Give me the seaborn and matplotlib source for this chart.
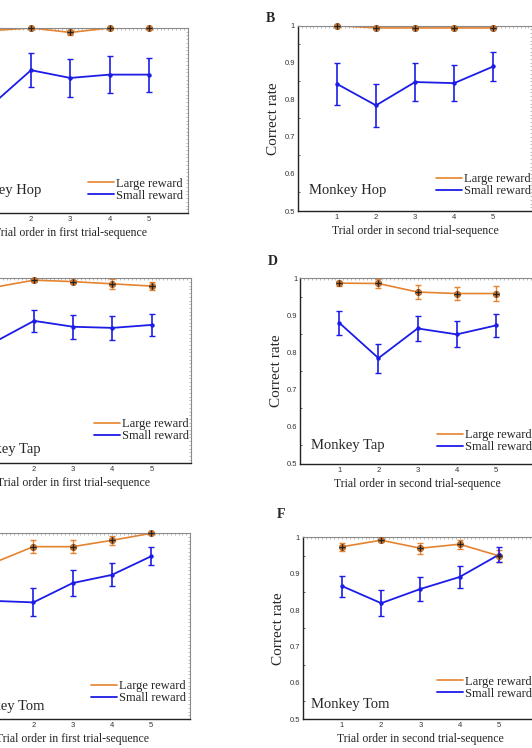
import matplotlib
matplotlib.use("Agg")
import matplotlib.pyplot as plt
import matplotlib.ticker as tkr
import seaborn as sns
import pandas as pd

# trial order
trials = [1, 2, 3, 4, 5]

# Monkey Hop
hop1_large = [0.993, 1.000, 0.988, 1.000, 1.000]
hop1_large_err = [0.003, 0.002, 0.007, 0.002, 0.002]
hop1_small = [0.792, 0.886, 0.865, 0.874, 0.874]
hop1_small_err = [0.050, 0.046, 0.052, 0.050, 0.046]
hop2_large = [1.000, 0.994, 0.994, 0.994, 0.994]
hop2_large_err = [0.002, 0.003, 0.003, 0.003, 0.003]
hop2_small = [0.843, 0.785, 0.848, 0.845, 0.890]
hop2_small_err = [0.056, 0.058, 0.052, 0.048, 0.039]

# Monkey Tap
tap1_large = [0.976, 0.995, 0.991, 0.985, 0.979]
tap1_large_err = [0.006, 0.004, 0.005, 0.013, 0.010]
tap1_small = [0.828, 0.885, 0.869, 0.866, 0.874]
tap1_small_err = [0.030, 0.029, 0.032, 0.032, 0.029]
tap2_large = [0.987, 0.986, 0.963, 0.959, 0.959]
tap2_large_err = [0.007, 0.012, 0.020, 0.018, 0.019]
tap2_small = [0.880, 0.785, 0.865, 0.849, 0.873]
tap2_small_err = [0.033, 0.039, 0.033, 0.035, 0.031]

# Monkey Tom
tom1_large = [0.921, 0.964, 0.964, 0.981, 1.000]
tom1_large_err = [0.010, 0.018, 0.018, 0.012, 0.002]
tom1_small = [0.818, 0.814, 0.866, 0.888, 0.938]
tom1_small_err = [0.040, 0.038, 0.035, 0.031, 0.024]
tom2_large = [0.974, 0.992, 0.970, 0.981, 0.949]
tom2_large_err = [0.011, 0.004, 0.015, 0.012, 0.017]
tom2_small = [0.866, 0.819, 0.858, 0.891, 0.952]
tom2_small_err = [0.029, 0.035, 0.033, 0.030, 0.021]

ytick_vals = [0.5, 0.6, 0.7, 0.8, 0.9, 1.0]
ytick_labels = ['0.5', '0.6', '0.7', '0.8', '0.9', '1']

ORANGE = '#E5832F'
BLUE = '#1C1CE8'
W, H = 532, 748

sns.set_style("white")
plt.rcParams['font.family'] = ['Liberation Serif', 'DejaVu Serif']

fig = plt.figure(figsize=(W / 100, H / 100), dpi=100)


def add_ax(left, right, top, bottom):
    return fig.add_axes([left / W, 1 - bottom / H, (right - left) / W, (bottom - top) / H])


# panels: (pixel box, large, large err, small, small err, monkey, xlabel, legend pos, monkey text pos)
panels = [
    ((-47.5, 188.0, 28.0, 213.0), hop1_large, hop1_large_err, hop1_small, hop1_small_err,
     'Monkey Hop', 'Trial order in first trial-sequence', (0.575, 0.19), (0.048, 0.12)),
    ((297.8, 532.4, 25.7, 211.0), hop2_large, hop2_large_err, hop2_small, hop2_small_err,
     'Monkey Hop', 'Trial order in second trial-sequence', (0.588, 0.205), (0.048, 0.108)),
    ((-44.4, 190.8, 278.3, 463.3), tap1_large, tap1_large_err, tap1_small, tap1_small_err,
     'Monkey Tap', 'Trial order in first trial-sequence', (0.588, 0.245), (0.048, 0.072)),
    ((300.2, 535.0, 278.3, 464.0), tap2_large, tap2_large_err, tap2_small, tap2_small_err,
     'Monkey Tap', 'Trial order in second trial-sequence', (0.581, 0.188), (0.045, 0.097)),
    ((-45.1, 190.3, 533.3, 719.0), tom1_large, tom1_large_err, tom1_small, tom1_small_err,
     'Monkey Tom', 'Trial order in first trial-sequence', (0.577, 0.21), (0.048, 0.066)),
    ((302.8, 538.0, 537.3, 719.3), tom2_large, tom2_large_err, tom2_small, tom2_small_err,
     'Monkey Tom', 'Trial order in second trial-sequence', (0.569, 0.24), (0.034, 0.079)),
]

for box, lg, lg_err, sm, sm_err, monkey, xlab, leg_pos, txt_pos in panels:
    ax = add_ax(*box)
    df = pd.DataFrame({'trial': trials, 'large': lg, 'small': sm})

    sns.lineplot(data=df, x='trial', y='large', ax=ax, color=ORANGE, lw=1.2, label='Large reward')
    sns.lineplot(data=df, x='trial', y='small', ax=ax, color=BLUE, lw=1.3, label='Small reward')

    ax.errorbar(trials, lg, yerr=lg_err, fmt='none', ecolor=ORANGE, elinewidth=1.0, capsize=2)
    ax.errorbar(trials, sm, yerr=sm_err, fmt='none', ecolor=BLUE, elinewidth=1.2, capsize=2)
    ax.plot(trials, lg, 'o', color=ORANGE, ms=4.5, mec='#B06020', mew=0.6, clip_on=False, zorder=5)
    ax.plot(trials, lg, '+', color='#222222', ms=4, mew=1.0, clip_on=False, zorder=6)
    ax.plot(trials, sm, 'o', color=BLUE, ms=2.2, zorder=5)

    ax.set_xlim(0, 6)
    ax.set_ylim(0.5, 1)
    ax.set_xticks(trials)
    ax.set_xticklabels([str(t) for t in trials], family='Liberation Sans', fontsize=5.5)
    ax.set_yticks(ytick_vals)
    ax.set_yticklabels(ytick_labels, family='Liberation Sans', fontsize=5.5)
    ax.yaxis.set_minor_locator(tkr.MultipleLocator(0.05))
    ax.tick_params(axis='both', which='major', direction='in', length=3, width=0.6, pad=2,
                   colors='#333333')
    ax.tick_params(axis='y', which='minor', direction='in', length=1.5, width=0.5, left=True)

    ax.set_xlabel(xlab, fontsize=8.5, labelpad=3)
    ax.set_ylabel('Correct rate', fontsize=11, labelpad=3)

    for s in ['left', 'bottom']:
        ax.spines[s].set_color('#222222')
        ax.spines[s].set_linewidth(1.0)
    for s in ['top', 'right']:
        ax.spines[s].set_color('#8a8a8a')
        ax.spines[s].set_linewidth(0.8)

    # dense dotted-looking ticks on the top and right frame
    sec_x = ax.secondary_xaxis('top')
    sec_x.set_xticks([i / 10 for i in range(61)])
    sec_x.tick_params(direction='in', length=1.3, width=0.4, colors='#8a8a8a', labeltop=False)
    sec_x.spines['top'].set_visible(False)
    sec_y = ax.secondary_yaxis('right')
    sec_y.set_yticks([0.5 + i / 100 for i in range(51)])
    sec_y.tick_params(direction='in', length=1.3, width=0.4, colors='#8a8a8a', labelright=False)
    sec_y.spines['right'].set_visible(False)

    ax.text(txt_pos[0], txt_pos[1], monkey, transform=ax.transAxes, fontsize=10.5,
            va='center', ha='left')
    ax.legend(loc='upper left', bbox_to_anchor=leg_pos, frameon=False, fontsize=9,
              handlelength=2.1, handletextpad=0.15, labelspacing=0.0, borderpad=0,
              borderaxespad=0)

fig.text(270 / W, 1 - 18 / H, 'B', fontsize=10, weight='bold', ha='center', va='center')
fig.text(273 / W, 1 - 261.7 / H, 'D', fontsize=10, weight='bold', ha='center', va='center')
fig.text(280.7 / W, 1 - 515 / H, 'F', fontsize=10, weight='bold', ha='center', va='center')

fig.savefig('out.png', dpi=100)
